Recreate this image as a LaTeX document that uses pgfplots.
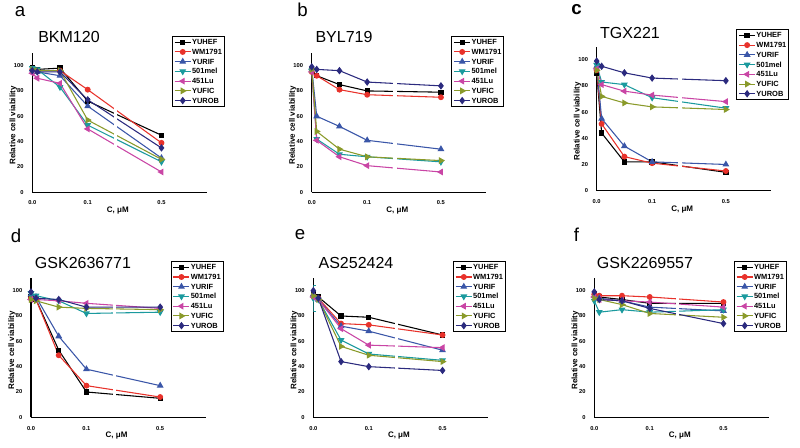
\documentclass[border=0pt]{standalone}
\usepackage{fontspec}
\setmainfont{Liberation Sans}
\usepackage{pgfplots}
\usepackage{pgfplotstable}
\pgfplotsset{compat=1.18}

\definecolor{cA}{HTML}{000000}
\definecolor{cB}{HTML}{E8322B}
\definecolor{cC}{HTML}{3A56A8}
\definecolor{cD}{HTML}{1B9A9E}
\definecolor{cE}{HTML}{C945A5}
\definecolor{cF}{HTML}{8A9A2A}
\definecolor{cG}{HTML}{2B2A7E}

% x positions: 0.0 -> 0, 0.01 -> 0.09, 0.05 -> 0.5, 0.1 -> 1, 0.5 -> 2.33 (broken axis)
\pgfplotstableread{
x    YUHEF WM YURIF mel Lu YUFIC YUROB
0    98 97 97 98 94 97 96
0.09 97 96 95 97 90 96 95
0.5  98 96 92 83 86 96 95
1    72 81 68 53 50 57 73
2.33 45 39 27 24 16 26 35
}\tabA
\pgfplotstableread{
x    YUHEF WM YURIF mel Lu YUFIC YUROB
0    97 95 98 96 95 97 99
0.09 92 92 60 42 41 48 97
0.5  85 81 52 30 28 34 96
1    80 77 41 28 21 28 87
2.33 79 75 34 24 16 25 84
}\tabB
\pgfplotstableread{
x    YUHEF WM YURIF mel Lu YUFIC YUROB
0    90 92 95 96 93 92 99
0.09 44 51 55 83 81 72 95
0.5  22 26 34 81 76 67 90
1    22 21 22 71 73 64 86
2.33 14 15 20 63 68 62 84
}\tabC
\pgfplotstableread{
x    YUHEF WM YURIF mel Lu YUFIC YUROB
0    95 94 97 98 93 93 99
0.09 93 93 95 96 93 92 94
0.5  53 49 64 92 92 87 93
1    20 25 38 82 90 86 87
2.33 15 16 25 83 86 85 87
}\tabD
\pgfplotstableread{
x    YUHEF WM YURIF mel Lu YUFIC YUROB
0    98 96 97 94 95 96 100
0.09 95 94 93 93 93 93 94
0.5  80 74 72 61 70 56 44
1    79 73 68 50 57 49 40
2.33 65 65 53 45 55 44 37
}\tabE
\pgfplotstableread{
x    YUHEF WM YURIF mel Lu YUFIC YUROB
0    98 97 96 92 95 94 99
0.09 95 96 94 83 93 93 93
0.5  93 96 92 85 92 89 92
1    90 95 87 83 91 82 86
2.33 90 91 84 85 87 79 74
}\tabF

\pgfplotsset{
  panel/.style={
    scale only axis, width=131pt, height=104.5pt,
    xmin=0, xmax=3.15, ymin=0, ymax=110,
    axis x line*=bottom, axis y line*=left,
    axis line style={line width=1.1pt, -},
    xtick={0,1,2.33}, xticklabels={0.0,0.1,0.5},
    ytick={0,20,...,100},
    major tick length=0pt,
    tick label style={font=\fontsize{4.3}{5}\selectfont\bfseries},
    xticklabel style={yshift=-3pt},
    yticklabel style={xshift=-3pt},
    /pgf/number format/assume math mode=true,
    xlabel={C, μM}, ylabel={Relative cell viability},
    label style={font=\fontsize{6}{7}\selectfont\bfseries},
    xlabel style={at={(axis description cs:0.49,-0.13)}, anchor=center},
    ylabel style={at={(axis description cs:-0.109,0.48)}, anchor=center},
    legend style={at={(0.8,1.12)}, anchor=north west,
      font=\fontsize{5.6}{6}\selectfont\bfseries, draw=black, line width=0.7pt,
      inner sep=1.3pt, row sep=1.6pt,
      nodes={inner sep=0.6pt, text height=4.1pt, text depth=0.4pt}},
    legend cell align=left,
    legend image code/.code={\draw[mark repeat=2,mark phase=2] plot coordinates {(0pt,0pt) (6pt,0pt) (12pt,0pt)};},
    every axis plot/.append style={line width=0.8pt},
  }
}

\newcommand{\sevenplots}[1]{%
  \addplot[cA, mark=square*, mark size=1.6pt] table[x=x,y=YUHEF]{#1};
  \addplot[cB, mark=*, mark size=1.8pt] table[x=x,y=WM]{#1};
  \addplot[cC, mark=triangle*, mark size=2.2pt] table[x=x,y=YURIF]{#1};
  \addplot[cD, mark=triangle*, mark size=2.2pt, mark options={rotate=180}] table[x=x,y=mel]{#1};
  \addplot[cE, mark=triangle*, mark size=2.2pt, mark options={rotate=90}] table[x=x,y=Lu]{#1};
  \addplot[cF, mark=triangle*, mark size=2.2pt, mark options={rotate=-90}] table[x=x,y=YUFIC]{#1};
  \addplot[cG, mark=diamond*, mark size=2.2pt] table[x=x,y=YUROB]{#1};
  \fill[white] (axis cs:1.47,1.5) rectangle (axis cs:1.53,109);
  \legend{YUHEF,WM1791,YURIF,501mel,451Lu,YUFIC,YUROB}
}

\begin{document}
\begin{tikzpicture}
\path[use as bounding box] (0,0) rectangle (600pt,336pt);

\begin{axis}[panel, at={(24.2pt,191.8pt)}, anchor=south west]
\sevenplots{\tabA}
\end{axis}
\begin{axis}[panel, at={(233.8pt,191.8pt)}, anchor=south west]
\sevenplots{\tabB}
\end{axis}
\begin{axis}[panel, height=108pt, at={(447.5pt,193pt)}, anchor=south west]
\sevenplots{\tabC}
\end{axis}
\begin{axis}[panel, at={(23.25pt,23pt)}, anchor=south west]
\sevenplots{\tabD}
\end{axis}
\begin{axis}[panel, at={(235pt,23pt)}, anchor=south west]
\sevenplots{\tabE}
\addplot[cD, draw=none, mark=none, forget plot, error bars/.cd, y dir=both, y fixed=10] coordinates {(0,94)};
\end{axis}
\begin{axis}[panel, at={(445.7pt,23pt)}, anchor=south west]
\sevenplots{\tabF}
\end{axis}

\tikzset{lett/.style={font=\fontsize{14}{16}\selectfont}, ttl/.style={font=\fontsize{12}{14}\selectfont}}
\node[lett] at (15pt,327pt) {a};
\node[lett] at (226.9pt,328.5pt) {b};
\node[lett, font=\fontsize{14}{16}\selectfont\bfseries] at (432.4pt,328.5pt) {c};
\node[lett] at (12pt,159.4pt) {d};
\node[lett] at (225pt,159.75pt) {e};
\node[lett] at (432.4pt,159.75pt) {f};

\node[ttl] at (51.75pt,308.6pt) {BKM120};
\node[ttl] at (258pt,307.9pt) {BYL719};
\node[ttl] at (472.5pt,310.9pt) {TGX221};
\node[ttl] at (62.25pt,139.1pt) {GSK2636771};
\node[ttl] at (267pt,139.1pt) {AS252424};
\node[ttl] at (483.75pt,139.1pt) {GSK2269557};
\end{tikzpicture}
\end{document}
